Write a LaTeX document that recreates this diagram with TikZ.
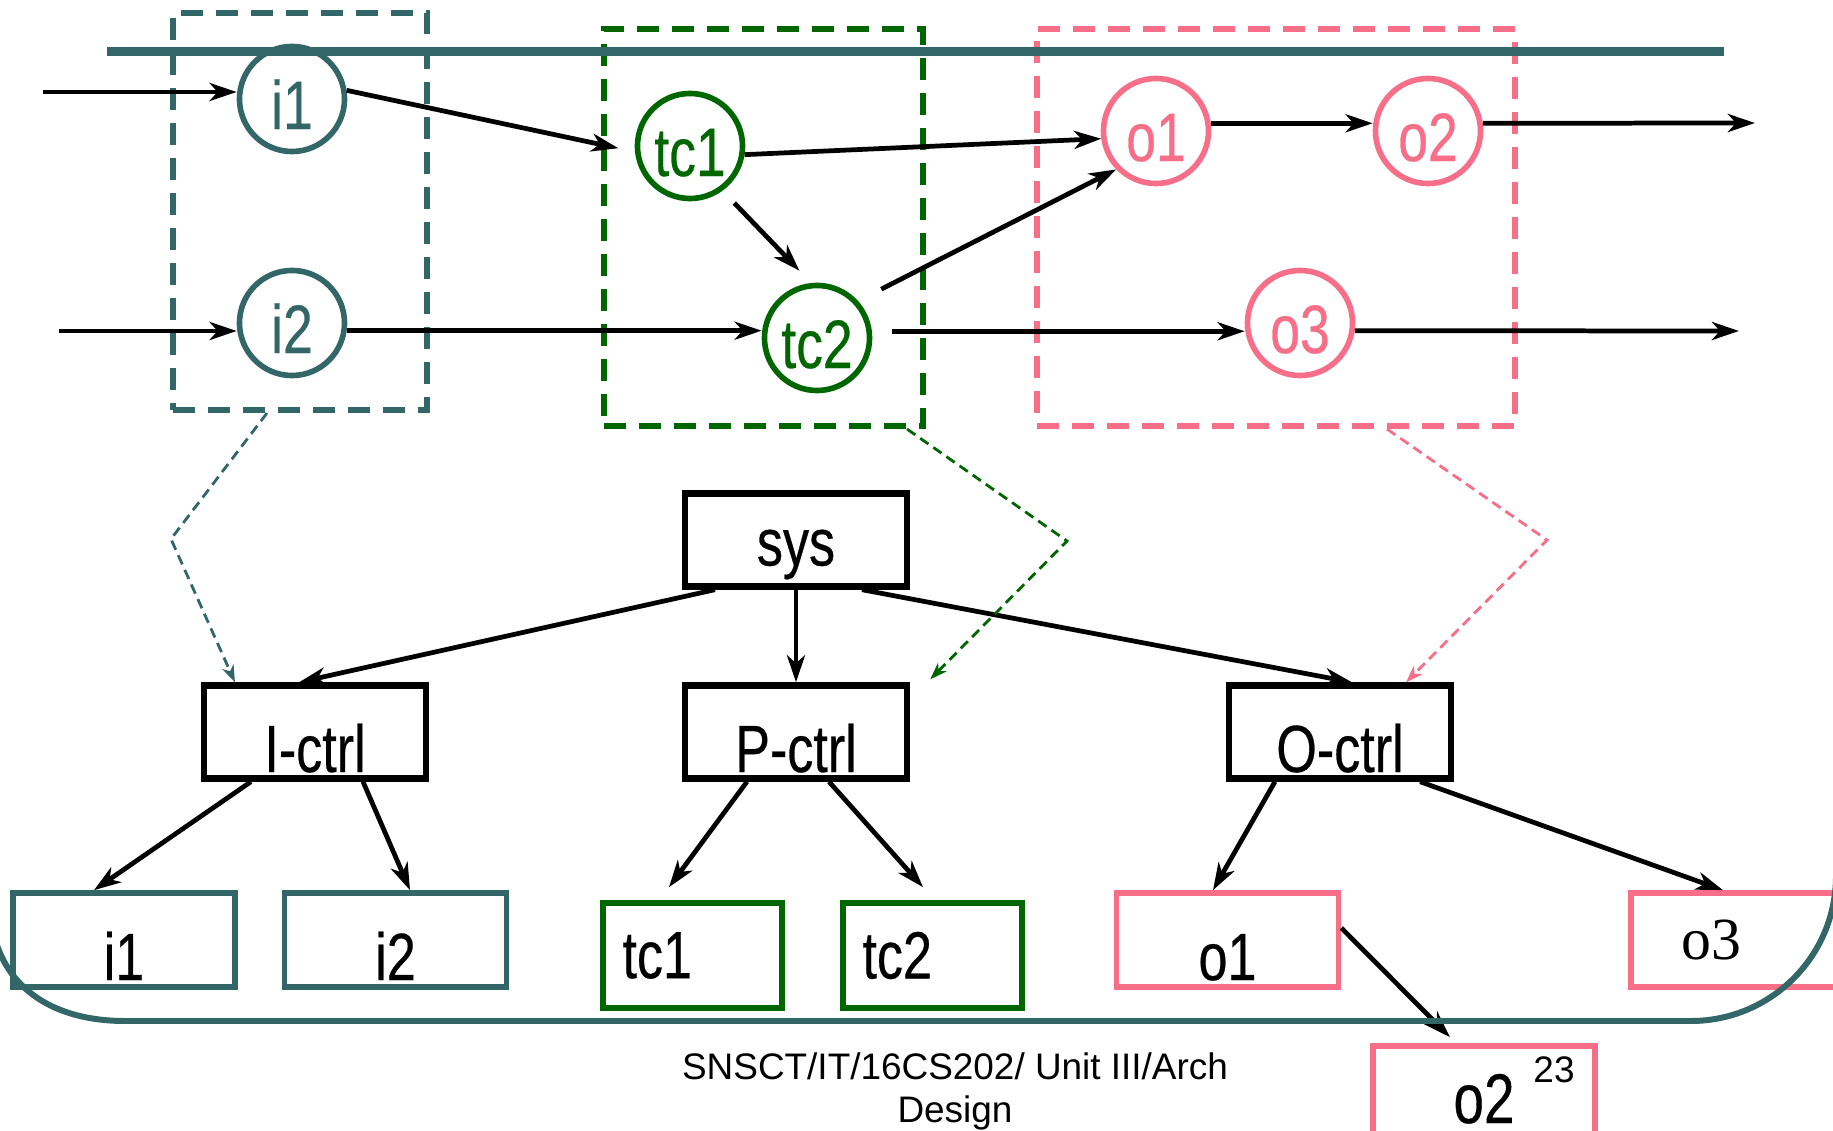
\documentclass[tikz,border=0pt]{standalone}
\usepackage{fontspec}
\setmainfont{Liberation Sans}
\newfontfamily\narrowfont[FakeStretch=0.78,FakeBold=0.4]{Liberation Sans}
\newfontfamily\serifface{Liberation Serif}
\usetikzlibrary{arrows.meta}
\definecolor{tealc}{RGB}{51,102,102}
\definecolor{greenc}{RGB}{0,102,0}
\definecolor{pinkc}{RGB}{246,110,136}
\begin{document}
\begin{tikzpicture}[x=0.01cm,y=-0.01cm,
        >={Stealth[length=0.27cm,width=0.18cm,inset=0.08cm]},
        flow/.style={line width=1.35pt,->},
        proc/.style={circle,draw,line width=1.6pt,minimum size=1.05cm,inner sep=0pt,text height=0.6cm,text depth=0pt,font=\narrowfont\fontsize{19.5}{21}\selectfont},
        group/.style={draw,line width=1.7pt,dash pattern=on 0.22cm off 0.13cm,inner sep=0pt,minimum height=3.97cm},
        ctrl/.style={draw,line width=1.8pt,minimum width=2.22cm,minimum height=0.93cm,inner sep=0pt,font=\narrowfont\fontsize{19}{21}\selectfont},
        leaf/.style={draw,line width=1.6pt,minimum width=2.22cm,minimum height=0.94cm,inner sep=0pt,font=\narrowfont\fontsize{19}{21}\selectfont},
        low/.style={text height=0.8cm,text depth=0pt},
        map/.style={line width=0.8pt,dash pattern=on 0.1cm off 0.06cm,-{Stealth[length=0.17cm,width=0.12cm,inset=0.05cm]}}]
                \useasboundingbox (0,0) rectangle (1833,1131);
                \node[group,tealc,minimum width=2.54cm] (ibox) at (300,211.5) {};
                \node[group,greenc,minimum width=3.19cm] (pbox) at (763.5,227.5) {};
                \node[group,pinkc,minimum width=4.78cm] (obox) at (1276,227.5) {};
                \node[proc,tealc] (i1) at (292,99) {i1};
                \node[proc,tealc] (i2) at (292,323) {i2};
                \node[proc,greenc] (tc1) at (690,146) {tc1};
                \node[proc,greenc] (tc2) at (817,338) {tc2};
                \node[proc,pinkc] (o1) at (1156,131) {o1};
                \node[proc,pinkc] (o2) at (1428,131) {o2};
                \node[proc,pinkc] (o3) at (1300,323) {o3};
                \draw[tealc,line width=2.6pt] (107,51.5) -- (1724,51.5);
                \coordinate (in1) at (43,92);
                \coordinate (in2) at (59,331);
                \coordinate (out1) at (1755,123);
                \coordinate (out2) at (1739,331);
                \draw[flow] (in1) -- (in1 -| i1.west);
                \draw[flow] (in2) -- (in2 -| i2.west);
                \draw[flow,shorten >=0.17cm] (i1.9) -- (tc1.186);
                \draw[flow] (tc1.351) -- (o1.188);
                \draw[flow,shorten <=0.17cm,shorten >=0.17cm] (tc1.306) -- (tc2.96);
                \draw[flow,shorten <=0.26cm] (tc2.42) -- (o1.224);
                \draw[flow] (i2.352) -- (i2.352 -| tc2.west);
                \draw[flow,shorten <=0.2cm] (tc2.7) -- (tc2.7 -| o3.west);
                \draw[flow] (o3.352) -- (out2);
                \draw[flow] (o1.8) -- (o1.8 -| o2.west);
                \draw[flow] (o2.8) -- (out1);
                \node[ctrl,text height=0.65cm,text depth=0.14cm] (sys) at (796,540) {sys};
                \node[ctrl,low] (Ictrl) at (315,732) {I-ctrl};
                \node[ctrl,low] (Pctrl) at (796,732) {P-ctrl};
                \node[ctrl,low] (Octrl) at (1340,732) {O-ctrl};
                \node[leaf,low,tealc,text=black,text width=1.96cm,align=center] (li1) at (124,940) {i1};
                \node[leaf,low,tealc,text=black,text width=1.96cm,align=center] (li2) at (395.5,940) {i2};
                \node[leaf,greenc,text=black,minimum width=1.79cm,minimum height=1.05cm,text width=1.4cm,align=left] (ltc1) at (692.5,955.5) {tc1};
                \node[leaf,greenc,text=black,minimum width=1.79cm,minimum height=1.05cm,text width=1.4cm,align=left] (ltc2) at (932.5,955.5) {tc2};
                \node[leaf,low,pinkc,text=black] (lo1) at (1227.5,940) {o1};
                \node[leaf,pinkc,text=black,text width=1.2cm,align=left,font=\serifface\fontsize{17}{19}\selectfont] (lo3) at (1742,940) {o3};
                \node[leaf,pinkc,text=black,text height=0.6cm,text depth=0pt,font=\narrowfont\fontsize{20}{22}\selectfont] (lo2) at (1484,1093) {o2};
                \draw[flow] ([xshift=-0.81cm]sys.south) -- ([xshift=-0.16cm]Ictrl.north);
                \draw[flow] (sys) -- (Pctrl);
                \draw[flow] ([xshift=0.66cm]sys.south) -- ([xshift=0.12cm]Octrl.north);
                \draw[flow] ([xshift=-0.64cm]Ictrl.south) -- ([xshift=-0.3cm]li1.north);
                \draw[flow] ([xshift=0.48cm]Ictrl.south) -- ([xshift=0.145cm]li2.north);
                \draw[flow] ([xshift=-0.49cm]Pctrl.south) -- ([xshift=-0.235cm,yshift=0.13cm]ltc1.north);
                \draw[flow] ([xshift=0.33cm]Pctrl.south) -- ([xshift=-0.095cm,yshift=0.13cm]ltc2.north);
                \draw[flow] ([xshift=-0.65cm]Octrl.south) -- ([xshift=-0.145cm]lo1.north);
                \draw[flow] ([xshift=0.8cm]Octrl.south) -- ([xshift=-0.19cm]lo3.north);
                \draw[flow] ([yshift=0.12cm]lo1.east) -- ([xshift=-0.34cm,yshift=0.06cm]lo2.north);
                \coordinate (ibend) at (171,539);
                \coordinate (pbend) at (1067,541);
                \coordinate (obend) at (1547,540);
                \draw[map,tealc] ([xshift=-0.33cm]ibox.south) -- (ibend) -- ([xshift=-0.8cm]Ictrl.north);
                \draw[map,greenc] ([xshift=1.435cm]pbox.south) -- (pbend) -- ([xshift=0.2cm,yshift=0.03cm]Pctrl.north east);
                \draw[map,pinkc] ([xshift=1.11cm]obox.south) -- (obend) -- ([xshift=0.66cm]Octrl.north);
                \draw[tealc,line width=1.7pt] (-10,900) .. controls (-10,980) and (45,1021) .. (125,1021) -- (1691,1021) .. controls (1771,1021) and (1836,956) .. (1836,876);
                \node[font=\fontsize{10.5}{12.2}\selectfont,align=center] (foot) at (955,1091) {SNSCT/IT/16CS202/ Unit III/Arch\\Design};
                \node[font=\fontsize{10.5}{12.2}\selectfont] (pageno) at (1554,1070) {23};
            \end{tikzpicture}
\end{document}
